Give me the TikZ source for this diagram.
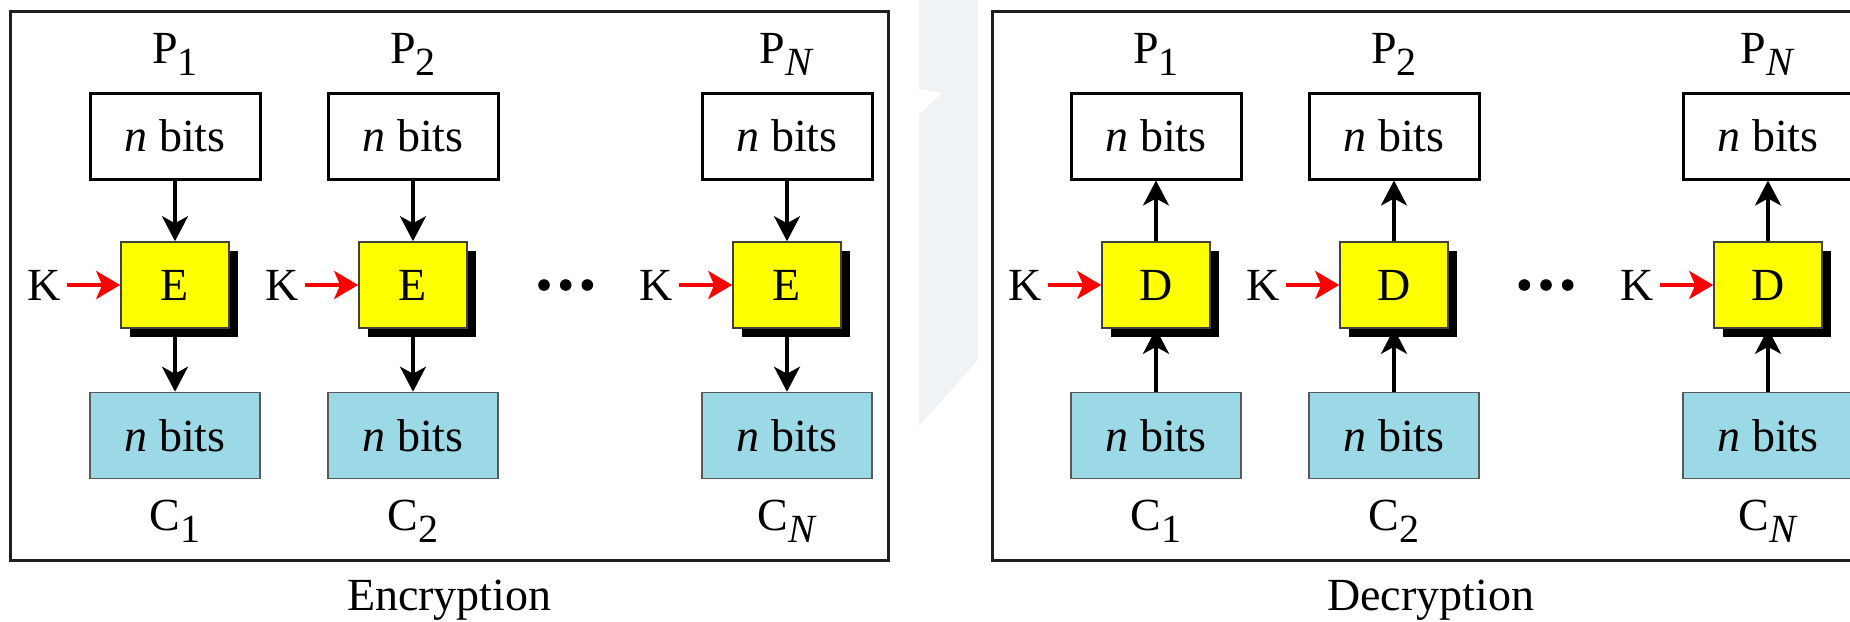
\documentclass[tikz,border=0pt]{standalone}
\usepackage{fontspec}
\setmainfont{Liberation Serif}
\usetikzlibrary{arrows.meta,shadows}

\definecolor{keyyellow}{RGB}{255,255,0}
\definecolor{cipherblue}{RGB}{155,217,230}
\definecolor{markgray}{RGB}{239,243,246}

\newcommand{\idx}[1]{\raisebox{-6pt}{\fontsize{20pt}{20pt}\selectfont #1}}

\tikzset{
  every node/.style={font=\fontsize{23pt}{27pt}\selectfont},
  plainbox/.style={draw=black,line width=1.5pt,fill=white,minimum width=85pt,minimum height=43pt,inner sep=0pt},
  cipherbox/.style={draw=black!65,line width=0.8pt,fill=cipherblue,minimum width=85pt,minimum height=43pt,inner sep=0pt},
  keybox/.style={draw=black!75,line width=0.8pt,fill=keyyellow,minimum width=54pt,minimum height=43pt,inner sep=0pt,
    drop shadow={fill=black,opacity=1,shadow xshift=4.5pt,shadow yshift=-4.5pt}},
  keylabel/.style={inner sep=3pt},
  flow/.style={line width=1.7pt,-{Stealth[length=12.5pt,width=13pt,inset=3.5pt]}},
  keyarrow/.style={red,line width=1.8pt,-{Stealth[length=12pt,width=14pt,inset=3pt]}},
  panel/.style={draw=black!88,line width=1.5pt}
}

\begin{document}
\begin{tikzpicture}[x=0.5pt,y=-0.5pt]
  \clip (0,0) rectangle (1850,621);

  % faint mark between the panels
  \fill[markgray] (919,0) -- (978,0) -- (978,360) -- (919,426) -- (919,115) -- (942,93) -- (919,89) -- cycle;

  % encryption
  \draw[panel] (10.7,11) rectangle (888,560);

  \node[anchor=base] (ep1) at (175,63.4) {P\idx{1}};
  \node[anchor=base] (ep2) at (413,63.4) {P\idx{2}};
  \node[anchor=base] (epn) at (787,63.4) {P\idx{\textit{N}}};

  \node[plainbox] (ept1) at (175,136) {\textit{n} bits};
  \node[plainbox] (ept2) at (413,136) {\textit{n} bits};
  \node[plainbox] (eptn) at (787,136) {\textit{n} bits};

  \node[keybox] (e1) at (175,285) {E};
  \node[keybox] (e2) at (413,285) {E};
  \node[keybox] (en) at (787,285) {E};

  \node[cipherbox] (ect1) at (175,435.5) {\textit{n} bits};
  \node[cipherbox] (ect2) at (413,435.5) {\textit{n} bits};
  \node[cipherbox] (ectn) at (787,435.5) {\textit{n} bits};

  \node[anchor=base] (ec1) at (175,530.7) {C\idx{1}};
  \node[anchor=base] (ec2) at (413,530.7) {C\idx{2}};
  \node[anchor=base] (ecn) at (787,530.7) {C\idx{\textit{N}}};

  \node[keylabel] (ek1) at (44.4,285) {K};
  \node[keylabel] (ek2) at (282.4,285) {K};
  \node[keylabel] (ekn) at (656.4,285) {K};

  \draw[flow] (ept1) -- (e1);
  \draw[flow] (ept2) -- (e2);
  \draw[flow] (eptn) -- (en);
  \draw[flow] (e1) -- (ect1);
  \draw[flow] (e2) -- (ect2);
  \draw[flow] (en) -- (ectn);
  \draw[keyarrow] (ek1) -- (e1);
  \draw[keyarrow] (ek2) -- (e2);
  \draw[keyarrow] (ekn) -- (en);

  \fill (544,285) circle (2.9pt);
  \fill (565.7,285) circle (2.9pt);
  \fill (587.3,285) circle (2.9pt);

  \node[anchor=base] (enccap) at (449.3,610) {Encryption};

  % decryption
  \draw[panel] (992,11) rectangle (1869,560);

  \node[anchor=base] (dp1) at (1156,63.4) {P\idx{1}};
  \node[anchor=base] (dp2) at (1394,63.4) {P\idx{2}};
  \node[anchor=base] (dpn) at (1768,63.4) {P\idx{\textit{N}}};

  \node[plainbox] (dpt1) at (1156,136) {\textit{n} bits};
  \node[plainbox] (dpt2) at (1394,136) {\textit{n} bits};
  \node[plainbox] (dptn) at (1768,136) {\textit{n} bits};

  \node[keybox] (d1) at (1156,285) {D};
  \node[keybox] (d2) at (1394,285) {D};
  \node[keybox] (dn) at (1768,285) {D};

  \node[cipherbox] (dct1) at (1156,435.5) {\textit{n} bits};
  \node[cipherbox] (dct2) at (1394,435.5) {\textit{n} bits};
  \node[cipherbox] (dctn) at (1768,435.5) {\textit{n} bits};

  \node[anchor=base] (dc1) at (1156,530.7) {C\idx{1}};
  \node[anchor=base] (dc2) at (1394,530.7) {C\idx{2}};
  \node[anchor=base] (dcn) at (1768,530.7) {C\idx{\textit{N}}};

  \node[keylabel] (dk1) at (1025.4,285) {K};
  \node[keylabel] (dk2) at (1263.4,285) {K};
  \node[keylabel] (dkn) at (1637.4,285) {K};

  \draw[flow] (dct1) -- (d1);
  \draw[flow] (dct2) -- (d2);
  \draw[flow] (dctn) -- (dn);
  \draw[flow] (d1) -- (dpt1);
  \draw[flow] (d2) -- (dpt2);
  \draw[flow] (dn) -- (dptn);
  \draw[keyarrow] (dk1) -- (d1);
  \draw[keyarrow] (dk2) -- (d2);
  \draw[keyarrow] (dkn) -- (dn);

  \fill (1524.3,285) circle (2.9pt);
  \fill (1546,285) circle (2.9pt);
  \fill (1567.7,285) circle (2.9pt);

  \node[anchor=base] (deccap) at (1430.6,610) {Decryption};
\end{tikzpicture}
\end{document}
